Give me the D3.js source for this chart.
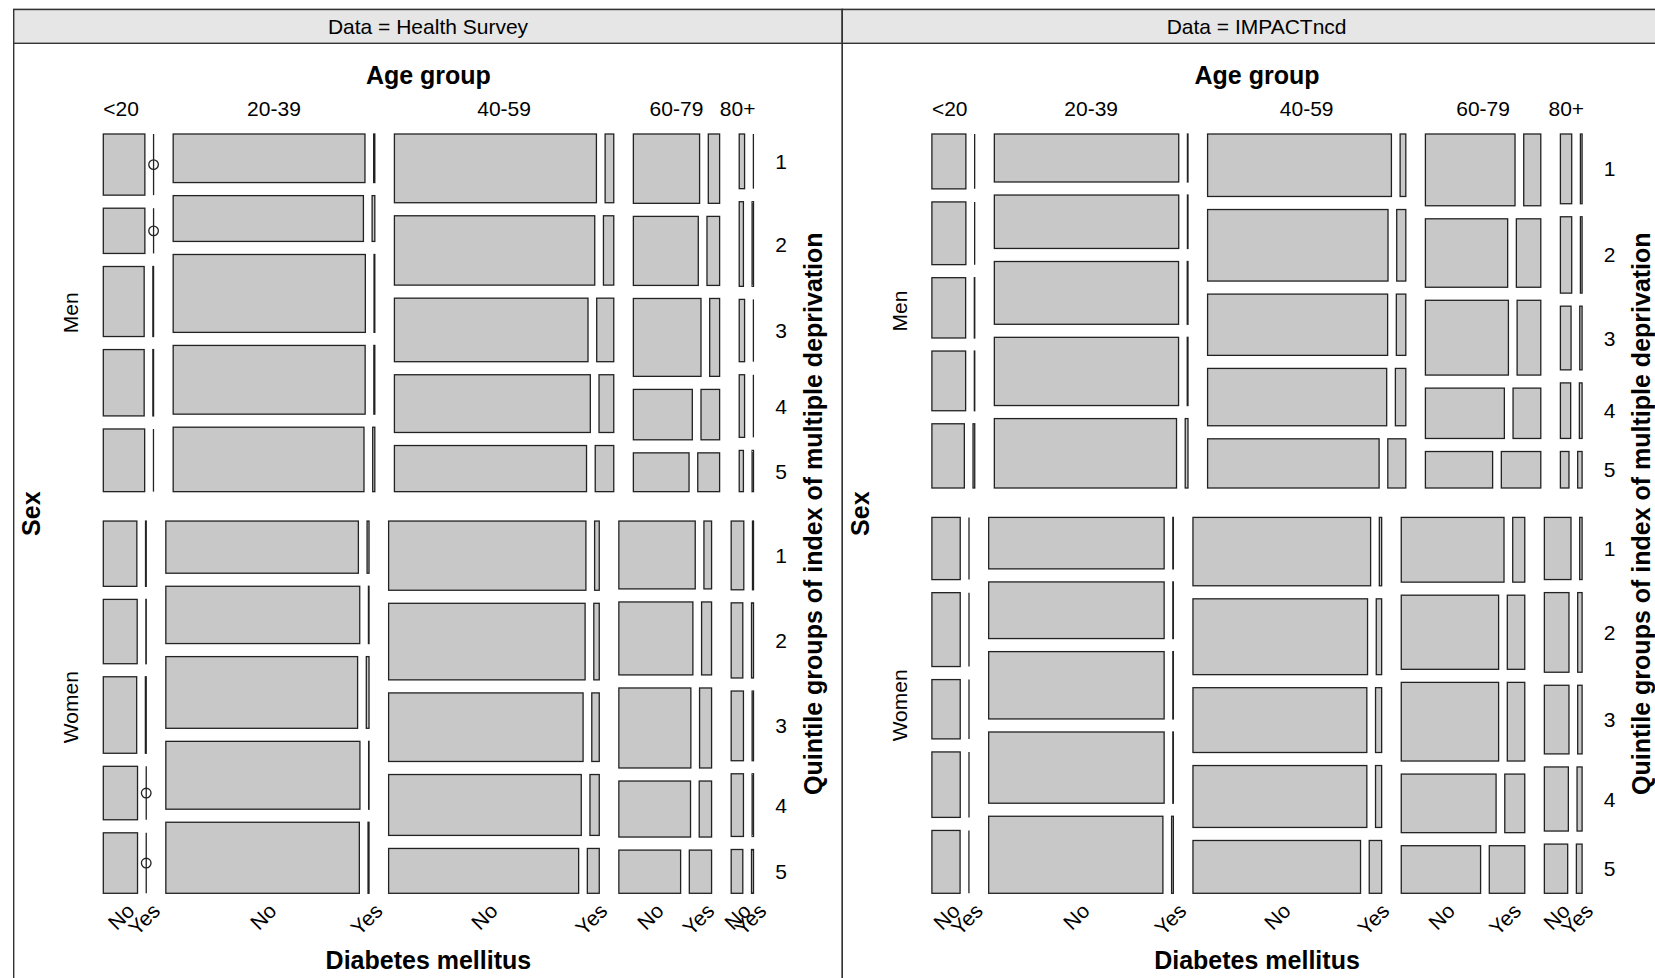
<!DOCTYPE html>
<html>
<head>
<meta charset="utf-8">
<script src="https://cdn.jsdelivr.net/npm/d3@7"></script>
<style>
  body { margin: 0; background: #fff; }
  text { font-family: "Liberation Sans", Arial, sans-serif; fill: #000; }
</style>
</head>
<body>
<script>
(function () {
  'use strict';

  var WIDTH = 1655;
  var HEIGHT = 978;

  var panelNames = ['Health Survey', 'IMPACTncd'];
  var sexes = ['Men', 'Women'];
  var ageGroups = ['<20', '20-39', '40-59', '60-79', '80+'];
  var quintiles = ['1', '2', '3', '4', '5'];
  var diabetes = ['No', 'Yes'];

  // Health Survey: share of sex, age within sex, quintile within sex x age (%),
  // and % with diabetes within each sex x age x quintile
  var hsSex = [49.0, 51.0];
  var hsAgeMen = [8.8, 35.3, 38.4, 15.1, 2.5];
  var hsAgeWomen = [7.5, 35.5, 36.8, 16.2, 3.9];
  var hsQuintMen = [
    [20.0, 14.8, 22.9, 21.7, 20.5],
    [15.9, 15.0, 25.5, 22.5, 21.1],
    [22.5, 22.7, 20.8, 18.9, 15.1],
    [22.7, 22.6, 25.5, 16.5, 12.7],
    [17.9, 27.7, 20.4, 20.5, 13.5]
  ];
  var hsQuintWomen = [
    [20.4, 20.1, 23.9, 16.7, 18.9],
    [16.3, 17.9, 22.4, 21.2, 22.2],
    [21.6, 23.9, 21.4, 19.0, 14.0],
    [21.2, 22.8, 25.0, 17.5, 13.5],
    [21.5, 23.5, 21.8, 19.6, 13.7]
  ];
  var hsYesMen = [
    [0, 0, 1.7, 1.7, 0.5],
    [0.6, 1.4, 0.4, 0.5, 1.1],
    [4.1, 4.9, 8.1, 7.0, 8.8],
    [14.6, 16.3, 12.8, 24.0, 28.2],
    [4, 25, 4, 4, 25]
  ];
  var hsYesWomen = [
    [2.0, 1.0, 2.5, 0, 0],
    [1.0, 0.3, 1.4, 0.2, 0.5],
    [2.3, 2.7, 3.7, 4.6, 5.9],
    [9.1, 11.9, 14.3, 14.7, 26.5],
    [7.4, 14.7, 10.0, 10.0, 14.7]
  ];

  // IMPACTncd
  var imSex = [48.5, 51.5];
  var imAgeMen = [7.5, 33.9, 34.7, 20.2, 3.8];
  var imAgeWomen = [6.5, 32.3, 33.0, 21.6, 6.6];
  var imQuintMen = [
    [18.2, 20.8, 20.0, 19.8, 21.3],
    [15.9, 17.7, 20.8, 22.6, 23.0],
    [20.7, 23.7, 20.3, 19.0, 16.3],
    [23.8, 22.7, 24.8, 16.7, 12.1],
    [23.1, 25.3, 21.1, 18.4, 12.1]
  ];
  var imQuintWomen = [
    [19.2, 22.8, 18.3, 20.2, 19.4],
    [15.9, 17.5, 20.8, 22.0, 23.8],
    [21.1, 23.4, 20.0, 19.1, 16.3],
    [20.0, 22.9, 24.3, 18.1, 14.7],
    [19.2, 24.6, 21.2, 19.8, 15.2]
  ];
  var imYesMen = [
    [0.5, 0.5, 1.2, 1.2, 5.0],
    [0.3, 0.3, 0.4, 0.4, 1.5],
    [3.0, 4.8, 5.0, 5.5, 9.5],
    [16.0, 22.9, 22.2, 26.0, 37.0],
    [13, 13, 18, 21, 34]
  ];
  var imYesWomen = [
    [0.5, 0.5, 0.5, 0.5, 1.0],
    [0.3, 0.3, 0.3, 0.3, 1.0],
    [1.3, 3.0, 3.4, 3.4, 6.9],
    [10.5, 15.2, 15.2, 17.4, 30.9],
    [8.3, 15.2, 15.2, 17.4, 19.7]
  ];

  var panels = [
    {sex: hsSex, age: [hsAgeMen, hsAgeWomen], quint: [hsQuintMen, hsQuintWomen], yes: [hsYesMen, hsYesWomen]},
    {sex: imSex, age: [imAgeMen, imAgeWomen], quint: [imQuintMen, imQuintWomen], yes: [imYesMen, imYesWomen]}
  ];

  var panelX = [13.7, 842.3];
  var panelW = 828.6;
  var panelTop = 9.5;
  var stripH = 33.8;
  var box = {left: 89.6, top: 134, width: 650.2, height: 759.3};
  // spacing between tiles: sex, age, quintile, diabetes
  var gap = [29.4, 19.6, 13.05, 8.7];

  var LINE = '#222';
  var FILL = '#c8c8c8';

  var svg = d3.select('body').append('svg')
    .attr('width', WIDTH)
    .attr('height', HEIGHT);

  function split(values, start, length, space) {
    var scale = d3.scaleLinear()
      .domain([0, d3.sum(values)])
      .range([0, length - space * (values.length - 1)]);
    var cum = 0;
    return values.map(function(v, i) {
      var s = {start: start + scale(cum) + i * space, size: scale(v)};
      cum += v;
      return s;
    });
  }

  panels.forEach(function(p, pi) {
    var g = svg.append('g')
      .attr('transform', 'translate(' + panelX[pi] + ',0)');

    g.append('rect')
      .attr('x', 0).attr('y', panelTop)
      .attr('width', panelW).attr('height', HEIGHT + 40)
      .attr('fill', 'none').attr('stroke', '#333').attr('stroke-width', 1.4);

    g.append('rect')
      .attr('x', 0).attr('y', panelTop)
      .attr('width', panelW).attr('height', stripH)
      .attr('fill', '#e6e6e6').attr('stroke', '#333').attr('stroke-width', 1.4);

    g.append('text')
      .attr('x', panelW / 2).attr('y', panelTop + stripH / 2)
      .attr('text-anchor', 'middle').attr('dominant-baseline', 'central')
      .style('font-size', '21px')
      .text('Data = ' + panelNames[pi]);

    var cells = [];
    var ageLabelSpans, bottomSpans = [], rightSpans = [];
    var sexSpans = split(p.sex, box.top, box.height, gap[0]);

    sexSpans.forEach(function(ss, si) {
      var ageSpans = split(p.age[si], box.left, box.width, gap[1]);
      if (si === 0) ageLabelSpans = ageSpans;
      ageSpans.forEach(function(as, ai) {
        var qSpans = split(p.quint[si][ai], ss.start, ss.size, gap[2]);
        if (ai === ageGroups.length - 1) rightSpans.push(qSpans);
        qSpans.forEach(function(qs, qi) {
          var yes = p.yes[si][ai][qi];
          var dSpans = split([100 - yes, yes], as.start, as.size, gap[3]);
          if (si === sexes.length - 1 && qi === quintiles.length - 1) {
            dSpans.forEach(function(ds) { bottomSpans.push(ds); });
          }
          dSpans.forEach(function(ds, di) {
            cells.push({
              x: ds.start, w: ds.size, y: qs.start, h: qs.size,
              value: di === 0 ? 100 - yes : yes
            });
          });
        });
      });
    });

    g.selectAll('rect.tile')
      .data(cells.filter(function(d) { return d.w >= 0.3; }))
      .enter().append('rect')
      .attr('class', 'tile')
      .attr('x', function(d) { return d.x; })
      .attr('y', function(d) { return d.y; })
      .attr('width', function(d) { return d.w; })
      .attr('height', function(d) { return d.h; })
      .attr('fill', FILL)
      .attr('stroke', LINE)
      .attr('stroke-width', 1.3);

    g.selectAll('line.tile')
      .data(cells.filter(function(d) { return d.w < 0.3; }))
      .enter().append('line')
      .attr('class', 'tile')
      .attr('x1', function(d) { return d.x + d.w / 2; })
      .attr('x2', function(d) { return d.x + d.w / 2; })
      .attr('y1', function(d) { return d.y; })
      .attr('y2', function(d) { return d.y + d.h; })
      .attr('stroke', LINE)
      .attr('stroke-width', 1.3);

    g.selectAll('circle.zero')
      .data(cells.filter(function(d) { return d.value === 0; }))
      .enter().append('circle')
      .attr('class', 'zero')
      .attr('cx', function(d) { return d.x + d.w / 2; })
      .attr('cy', function(d) { return d.y + d.h / 2; })
      .attr('r', 4.8)
      .attr('fill', 'none')
      .attr('stroke', LINE)
      .attr('stroke-width', 1.3);

    var right = box.left + box.width;
    var lastAge = ageGroups.length - 1;

    // age group labels (top); the outer two are pushed flush with the mosaic edges
    g.append('text')
      .attr('x', box.left + box.width / 2).attr('y', 75)
      .attr('text-anchor', 'middle').attr('dominant-baseline', 'central')
      .style('font-size', '25px').style('font-weight', 'bold')
      .text('Age group');

    g.selectAll('text.age')
      .data(ageLabelSpans)
      .enter().append('text')
      .attr('class', 'age')
      .attr('y', 108.7)
      .attr('text-anchor', function(d, i) {
        return i === 0 ? 'start' : (i === lastAge ? 'end' : 'middle');
      })
      .attr('dominant-baseline', 'central')
      .style('font-size', '21px')
      .attr('x', function(d, i) {
        if (i === 0) return box.left;
        if (i === lastAge) return right + 2;
        return d.start + d.size / 2;
      })
      .text(function(d, i) { return ageGroups[i]; });

    // diabetes labels (bottom)
    g.selectAll('text.diab')
      .data(bottomSpans)
      .enter().append('text')
      .attr('class', 'diab')
      .attr('transform', function(d) {
        return 'translate(' + (d.start + d.size / 2 + 10) + ',907) rotate(-45)';
      })
      .attr('text-anchor', 'end').attr('dominant-baseline', 'central')
      .style('font-size', '21px')
      .text(function(d, i) { return diabetes[i % 2]; });

    g.append('text')
      .attr('x', box.left + box.width / 2).attr('y', 959.5)
      .attr('text-anchor', 'middle').attr('dominant-baseline', 'central')
      .style('font-size', '25px').style('font-weight', 'bold')
      .text('Diabetes mellitus');

    // sex labels (left)
    g.selectAll('text.sex')
      .data(sexSpans)
      .enter().append('text')
      .attr('class', 'sex')
      .attr('transform', function(d) {
        return 'translate(' + (box.left - 32.6) + ',' + (d.start + d.size / 2) + ') rotate(-90)';
      })
      .attr('text-anchor', 'middle').attr('dominant-baseline', 'central')
      .style('font-size', '21px')
      .text(function(d, i) { return sexes[i]; });

    g.append('text')
      .attr('transform', 'translate(' + (box.left - 72) + ',' + (box.top + box.height / 2) + ') rotate(-90)')
      .attr('text-anchor', 'middle').attr('dominant-baseline', 'central')
      .style('font-size', '25px').style('font-weight', 'bold')
      .text('Sex');

    // quintile labels (right)
    rightSpans.forEach(function(qSpans) {
      g.selectAll(null)
        .data(qSpans)
        .enter().append('text')
        .attr('x', right + 27.5)
        .attr('y', function(d) { return d.start + d.size / 2; })
        .attr('text-anchor', 'middle').attr('dominant-baseline', 'central')
        .style('font-size', '21px')
        .text(function(d, i) { return quintiles[i]; });
    });

    g.append('text')
      .attr('transform', 'translate(' + (right + 59) + ',' + (box.top + box.height / 2) + ') rotate(-90)')
      .attr('text-anchor', 'middle').attr('dominant-baseline', 'central')
      .style('font-size', '25px').style('font-weight', 'bold')
      .text('Quintile groups of index of multiple deprivation');
  });
})();
</script>
</body>
</html>
